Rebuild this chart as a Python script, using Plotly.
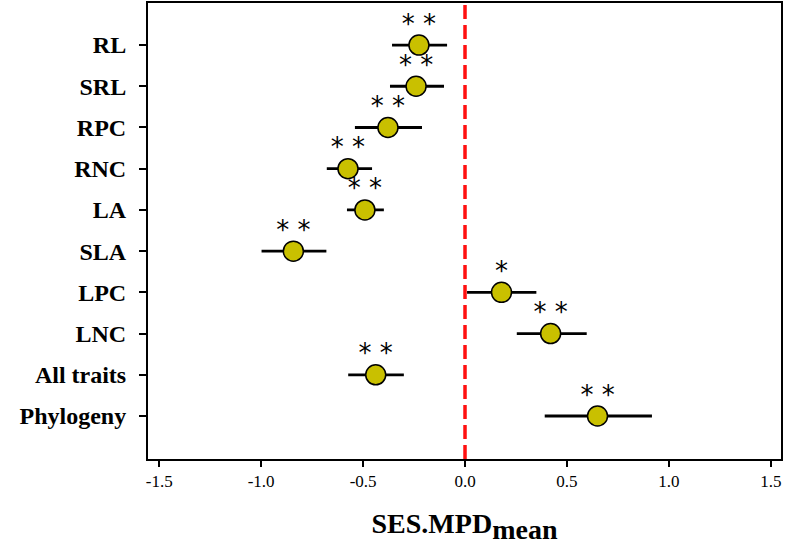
import plotly.graph_objects as go

traits = ["RL", "SRL", "RPC", "RNC", "LA", "SLA", "LPC", "LNC", "All traits", "Phylogeny"]
ses_mean = [-0.226, -0.24, -0.378, -0.574, -0.491, -0.842, 0.179, 0.42, -0.438, 0.65]
ci_low = [-0.358, -0.368, -0.54, -0.678, -0.579, -0.998, 0.01, 0.254, -0.573, 0.391]
ci_high = [-0.088, -0.103, -0.211, -0.456, -0.398, -0.68, 0.35, 0.597, -0.30, 0.917]
signif = ["* *", "* *", "* *", "* *", "* *", "* *", "*", "* *", "* *", "* *"]
x_ticks = [-1.5, -1.0, -0.5, 0.0, 0.5, 1.0, 1.5]

err_plus = [h - m for h, m in zip(ci_high, ses_mean)]
err_minus = [m - l for m, l in zip(ses_mean, ci_low)]

fig = go.Figure()

fig.add_trace(go.Scatter(
    x=ses_mean, y=traits,
    mode="markers",
    marker=dict(size=20, color="#C9C000", line=dict(color="black", width=1.5)),
    error_x=dict(type="data", symmetric=False, array=err_plus, arrayminus=err_minus,
                 color="black", thickness=2.8, width=0),
    showlegend=False,
))

# significance stars above each point
fig.add_trace(go.Scatter(
    x=ses_mean, y=traits,
    mode="markers+text",
    text=signif,
    textposition="top center",
    textfont=dict(family="DejaVu Sans", size=26, color="black"),
    marker=dict(size=8, color="rgba(0,0,0,0)"),
    hoverinfo="skip", showlegend=False,
))

# zero reference line
fig.add_shape(type="line", x0=0, x1=0, y0=0, y1=1, xref="x", yref="paper",
              line=dict(color="#FF1010", width=3.5, dash="14px,6px"), layer="below")

fig.update_xaxes(
    range=[-1.555, 1.55], tickvals=x_ticks,
    ticktext=["%.1f" % v for v in x_ticks],
    showline=True, linecolor="black", linewidth=2, mirror=True,
    ticks="outside", ticklen=6, tickwidth=1.5, tickcolor="black",
    showgrid=False, zeroline=False, automargin=False,
    tickfont=dict(family="Liberation Serif", size=17, color="black"),
    title=dict(text="<b>SES.MPD<sub><span style='font-size:28px'>mean</span></sub></b>",
               standoff=23,
               font=dict(family="Liberation Serif", size=28, color="black")),
)
fig.update_yaxes(
    categoryorder="array", categoryarray=traits[::-1],
    range=[-1.043, 10.02],
    showline=True, linecolor="black", linewidth=2, mirror=True,
    ticks="outside", ticklen=7, tickwidth=1.5, tickcolor="black",
    showgrid=False, zeroline=False, automargin=False,
    ticklabelstandoff=8,
    tickprefix="<b>", ticksuffix="</b>",
    tickfont=dict(family="Liberation Serif", size=24, color="black"),
)

fig.update_layout(
    width=785, height=548,
    margin=dict(l=148, r=4, t=3, b=89),
    plot_bgcolor="white", paper_bgcolor="white",
)

# drop the page's default body margin so the figure fills the window
fig.write_html("out.html", config={"displayModeBar": False},
               post_script="document.body.style.margin='0';")
